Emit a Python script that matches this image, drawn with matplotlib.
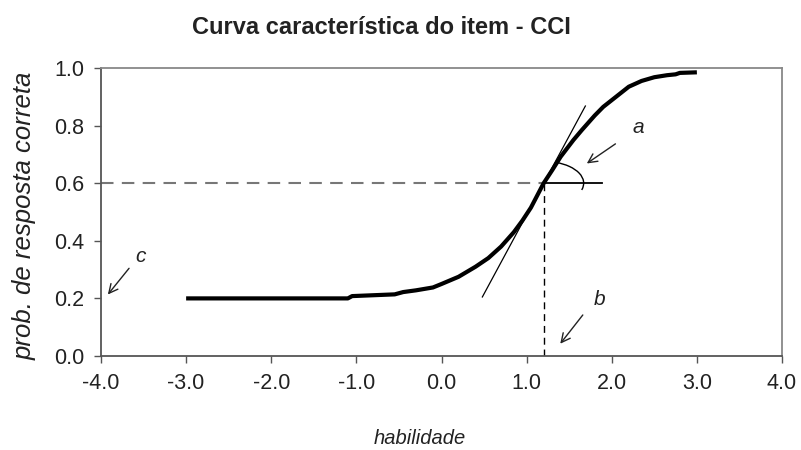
import matplotlib.pyplot as plt
from matplotlib.patches import Arc

plt.rcParams['font.family'] = ['Liberation Sans', 'DejaVu Sans']

# item characteristic curve
habilidade = [-3.0, -2.5, -2.0, -1.5, -1.1, -1.05, -0.8, -0.55, -0.45, -0.3, -0.1, 0.0,
              0.2, 0.4, 0.55, 0.7, 0.85, 0.95, 1.05, 1.2, 1.3, 1.4, 1.55, 1.65, 1.8,
              1.9, 2.05, 2.2, 2.35, 2.5, 2.65, 2.75, 2.8, 3.0]
prob = [0.2, 0.2, 0.2, 0.2, 0.2, 0.208, 0.211, 0.214, 0.222, 0.228, 0.238, 0.25,
        0.275, 0.31, 0.34, 0.38, 0.43, 0.47, 0.515, 0.60, 0.645, 0.692, 0.75, 0.785, 0.835,
        0.865, 0.9, 0.935, 0.955, 0.968, 0.975, 0.978, 0.983, 0.985]

# item parameters
b_param = 1.2
p_at_b = 0.6
tangent_x = [0.48, 1.69]
tangent_y = [0.205, 0.868]
horiz_end = 1.88

x_ticks = [-4, -3, -2, -1, 0, 1, 2, 3, 4]
y_ticks = [0.0, 0.2, 0.4, 0.6, 0.8, 1.0]

text_col = '#222222'

fig = plt.figure(figsize=(8.01, 4.5), dpi=100)
ax = fig.add_axes([101/801, 1 - 356/450, (782 - 101)/801, (356 - 68)/450])

# guide lines
ax.plot([-4, b_param], [p_at_b, p_at_b], color='#777777', lw=1.5, dashes=(6, 4))
ax.plot([b_param, b_param], [0, p_at_b], color='black', lw=1.0, dashes=(5, 3.5))
ax.plot([b_param, horiz_end], [p_at_b, p_at_b], color='black', lw=1.3)
ax.plot(tangent_x, tangent_y, color='black', lw=0.9)

# curve
ax.plot(habilidade, prob, color='black', lw=3.0, solid_capstyle='butt')

# angle arc
ax.add_patch(Arc((b_param, p_at_b), 0.94, 0.152, theta1=-3, theta2=27, color='black', lw=1.0))

# annotations a, b, c
arrow = dict(arrowstyle='->', color='#222222', lw=1.0, mutation_scale=16)
ax.annotate('', xy=(1.68, 0.663), xytext=(2.07, 0.742), arrowprops=arrow)
ax.annotate('', xy=(1.375, 0.035), xytext=(1.68, 0.15), arrowprops=arrow)
ax.annotate('', xy=(-3.94, 0.206), xytext=(-3.65, 0.312), arrowprops=arrow)
ax.text(2.31, 0.795, 'a', fontsize=15, color=text_col, style='italic', ha='center', va='center')
ax.text(1.86, 0.195, 'b', fontsize=15, color=text_col, style='italic', ha='center', va='center')
ax.text(-3.53, 0.345, 'c', fontsize=15, color=text_col, style='italic', ha='center', va='center')

ax.set_xlim(-4, 4)
ax.set_ylim(0, 1)
ax.set_xticks(x_ticks)
ax.set_xticklabels([f'{v:.1f}' for v in x_ticks])
ax.set_yticks(y_ticks)
ax.set_yticklabels([f'{v:.1f}' for v in y_ticks])
ax.tick_params(direction='out', length=5, width=1, color='#555555',
               labelsize=15.5, labelcolor=text_col, pad=7)

for side in ['left', 'bottom']:
    ax.spines[side].set_color('#555555')
    ax.spines[side].set_linewidth(1.3)
for side in ['top', 'right']:
    ax.spines[side].set_color('#888888')
    ax.spines[side].set_linewidth(1.3)

fig.text(381/801, 1 - 28/450, 'Curva característica do item - CCI', fontsize=17,
         fontweight='bold', color=text_col, ha='center', va='center')
fig.text(420/801, 1 - 438/450, 'habilidade', fontsize=14.5, style='italic',
         color=text_col, ha='center', va='center')
fig.text(25/801, 1 - 216/450, 'prob. de resposta correta', fontsize=18.5, style='italic',
         color=text_col, ha='center', va='center', rotation=90)

fig.savefig('out.png', dpi=100)
